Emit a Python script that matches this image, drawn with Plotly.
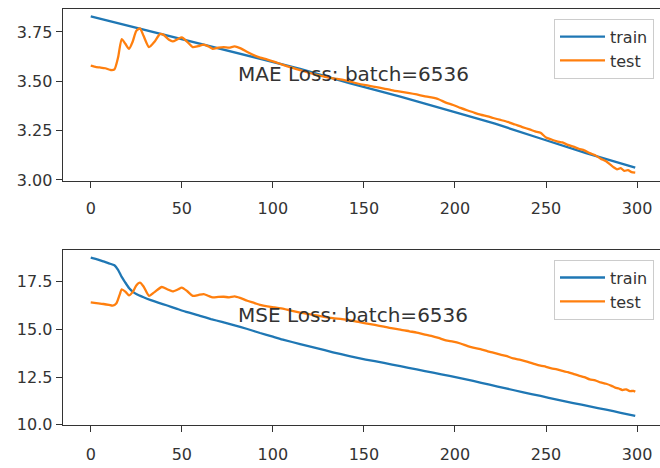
import plotly.graph_objects as go

# ---------------- data ----------------
train_mae_epochs = [0, 25, 50, 75, 93, 115, 142, 170, 197, 222, 247, 272, 299]
train_mae = [3.829, 3.772, 3.713, 3.657, 3.615, 3.563, 3.491, 3.422, 3.351,
             3.285, 3.210, 3.136, 3.062]

test_mae_epochs = [0, 3, 5, 8, 11, 13, 15, 17, 19, 21, 23, 25, 27, 29, 32, 35, 38,
                   40, 43, 45, 48, 50, 53, 56, 59, 62, 65, 67, 70, 73, 76, 79, 82,
                   86, 90, 93, 97, 101, 106, 110, 115, 120, 124, 128, 133, 138, 142,
                   146, 151, 156, 161, 165, 170, 175, 179, 183, 187, 191, 195, 199,
                   203, 207, 210, 214, 218, 221, 225, 229, 233, 237, 241, 244, 247,
                   250, 253, 256, 259, 262, 265, 268, 271, 274, 277, 280, 283, 285,
                   287, 289, 291, 293, 295, 297, 299]
test_mae = [3.579, 3.572, 3.570, 3.566, 3.557, 3.560, 3.620, 3.714, 3.690, 3.664,
            3.700, 3.755, 3.768, 3.730, 3.673, 3.700, 3.739, 3.735, 3.710, 3.702,
            3.715, 3.722, 3.700, 3.673, 3.678, 3.686, 3.675, 3.664, 3.670, 3.673,
            3.670, 3.677, 3.668, 3.648, 3.630, 3.620, 3.610, 3.598, 3.582, 3.570,
            3.556, 3.543, 3.532, 3.524, 3.515, 3.508, 3.500, 3.490, 3.480, 3.472,
            3.463, 3.455, 3.447, 3.440, 3.433, 3.425, 3.418, 3.409, 3.392, 3.380,
            3.365, 3.352, 3.343, 3.331, 3.322, 3.314, 3.304, 3.294, 3.281, 3.268,
            3.256, 3.246, 3.239, 3.215, 3.205, 3.196, 3.190, 3.178, 3.169, 3.158,
            3.150, 3.136, 3.125, 3.108, 3.095, 3.080, 3.065, 3.054, 3.060, 3.046,
            3.050, 3.040, 3.037]

train_mse_epochs = [0, 4, 7, 10, 13, 15, 17, 19, 21, 23, 25, 29, 33, 37, 42, 47, 53,
                    60, 66, 72, 78, 86, 93, 100, 106, 115, 124, 133, 142, 151, 161,
                    170, 179, 188, 197, 210, 219, 228, 237, 247, 256, 265, 274, 283,
                    291, 299]
train_mse = [18.76, 18.66, 18.56, 18.46, 18.36, 18.12, 17.75, 17.45, 17.17, 16.98,
             16.85, 16.68, 16.53, 16.40, 16.25, 16.09, 15.90, 15.71, 15.54, 15.39,
             15.23, 15.02, 14.81, 14.62, 14.45, 14.23, 14.02, 13.80, 13.60, 13.42,
             13.24, 13.07, 12.90, 12.73, 12.56, 12.30, 12.10, 11.91, 11.71, 11.51,
             11.32, 11.14, 10.96, 10.79, 10.63, 10.47]

test_mse_epochs = [0, 3, 7, 10, 12, 14, 16, 17, 19, 21, 23, 25, 27, 29, 32, 35, 39,
                   42, 45, 48, 50, 53, 56, 59, 62, 65, 67, 70, 73, 76, 79, 82, 86,
                   90, 93, 97, 101, 106, 110, 115, 120, 124, 128, 133, 138, 142, 146,
                   151, 156, 161, 165, 170, 175, 179, 183, 187, 191, 195, 199, 203,
                   207, 210, 214, 218, 221, 225, 228, 232, 236, 240, 244, 247, 250,
                   253, 256, 259, 262, 265, 268, 271, 274, 277, 280, 283, 286, 288,
                   290, 292, 294, 296, 298, 299]
test_mse = [16.42, 16.38, 16.33, 16.28, 16.24, 16.35, 16.85, 17.10, 16.98, 16.78,
            16.95, 17.30, 17.45, 17.25, 16.76, 16.95, 17.22, 17.10, 16.99, 17.10,
            17.19, 17.00, 16.76, 16.80, 16.85, 16.74, 16.68, 16.70, 16.71, 16.68,
            16.73, 16.65, 16.50, 16.38, 16.28, 16.20, 16.15, 16.08, 15.98, 15.88,
            15.80, 15.73, 15.66, 15.59, 15.54, 15.48, 15.40, 15.32, 15.23, 15.14,
            15.06, 14.99, 14.90, 14.83, 14.74, 14.66, 14.55, 14.42, 14.36, 14.26,
            14.12, 14.04, 13.96, 13.85, 13.78, 13.68, 13.61, 13.48, 13.40, 13.30,
            13.18, 13.10, 13.04, 12.96, 12.90, 12.82, 12.76, 12.67, 12.58, 12.50,
            12.38, 12.33, 12.22, 12.15, 12.04, 11.95, 11.90, 11.82, 11.86, 11.76,
            11.78, 11.73]

x_ticks = [0, 50, 100, 150, 200, 250, 300]
mae_ticks = [3.00, 3.25, 3.50, 3.75]
mae_tick_text = ["3.00", "3.25", "3.50", "3.75"]
mse_ticks = [10.0, 12.5, 15.0, 17.5]
mse_tick_text = ["10.0", "12.5", "15.0", "17.5"]

labels = ["train", "test"]
mae_title = "MAE Loss: batch=6536"
mse_title = "MSE Loss: batch=6536"

# ---------------- styling ----------------
BLUE = "#1f77b4"
ORANGE = "#ff7f0e"
FONT = "DejaVu Sans"
INK = "#333333"
LW = 2.3

fig = go.Figure()
fig.add_trace(go.Scatter(x=train_mae_epochs, y=train_mae, mode="lines", name=labels[0],
                         line=dict(color=BLUE, width=LW), xaxis="x", yaxis="y", legend="legend"))
fig.add_trace(go.Scatter(x=test_mae_epochs, y=test_mae, mode="lines", name=labels[1],
                         line=dict(color=ORANGE, width=LW, shape="spline", smoothing=0.6),
                         xaxis="x", yaxis="y", legend="legend"))
fig.add_trace(go.Scatter(x=train_mse_epochs, y=train_mse, mode="lines", name=labels[0],
                         line=dict(color=BLUE, width=LW, shape="spline", smoothing=0.5),
                         xaxis="x2", yaxis="y2", legend="legend2"))
fig.add_trace(go.Scatter(x=test_mse_epochs, y=test_mse, mode="lines", name=labels[1],
                         line=dict(color=ORANGE, width=LW, shape="spline", smoothing=0.6),
                         xaxis="x2", yaxis="y2", legend="legend2"))

W, H = 660, 468
xdom = [62.7 / W, 1.0]
top_dom = [1 - 184.3 / H, 1 - 9 / H]
bot_dom = [1 - 433.3 / H, 1 - 254.7 / H]

axis_common = dict(showgrid=False, zeroline=False, showline=True, linecolor=INK, linewidth=1.2,
                   ticks="outside", ticklen=6, tickwidth=1.2, tickcolor=INK,
                   tickfont=dict(family=FONT, size=16, color=INK))

legend_common = dict(xanchor="right", yanchor="top", bgcolor="rgba(255,255,255,0.8)",
                     bordercolor="#cccccc", borderwidth=1, itemwidth=45,
                     font=dict(family=FONT, size=16, color=INK), tracegroupgap=0)

fig.update_layout(
    width=W, height=H, margin=dict(l=0, r=0, t=0, b=0),
    paper_bgcolor="white", plot_bgcolor="white",
    xaxis=dict(domain=xdom, range=[-15.4, 312.6], tickvals=x_ticks, anchor="y",
               mirror=True, ticklabelstandoff=7, **axis_common),
    yaxis=dict(domain=top_dom, range=[2.996, 3.867], tickvals=mae_ticks, ticktext=mae_tick_text,
               anchor="x", **axis_common),
    xaxis2=dict(domain=xdom, range=[-15.4, 312.6], tickvals=x_ticks, anchor="y2",
                mirror=True, ticklabelstandoff=9, **axis_common),
    yaxis2=dict(domain=bot_dom, range=[9.99, 19.17], tickvals=mse_ticks, ticktext=mse_tick_text,
                anchor="x2", **axis_common),
    legend=dict(x=654 / W, y=1 - 19 / H, **legend_common),
    legend2=dict(x=654 / W, y=1 - 264.7 / H, **legend_common),
    showlegend=True,
    annotations=[
        dict(x=80, y=3.5, xref="x", yref="y", text=mae_title, showarrow=False,
             xanchor="left", yanchor="middle", yshift=7,
             font=dict(family=FONT, size=20, color=INK)),
        dict(x=80, y=15.4, xref="x2", yref="y2", text=mse_title, showarrow=False,
             xanchor="left", yanchor="middle", yshift=7,
             font=dict(family=FONT, size=20, color=INK)),
    ],
)

fig.write_html("out.html")
